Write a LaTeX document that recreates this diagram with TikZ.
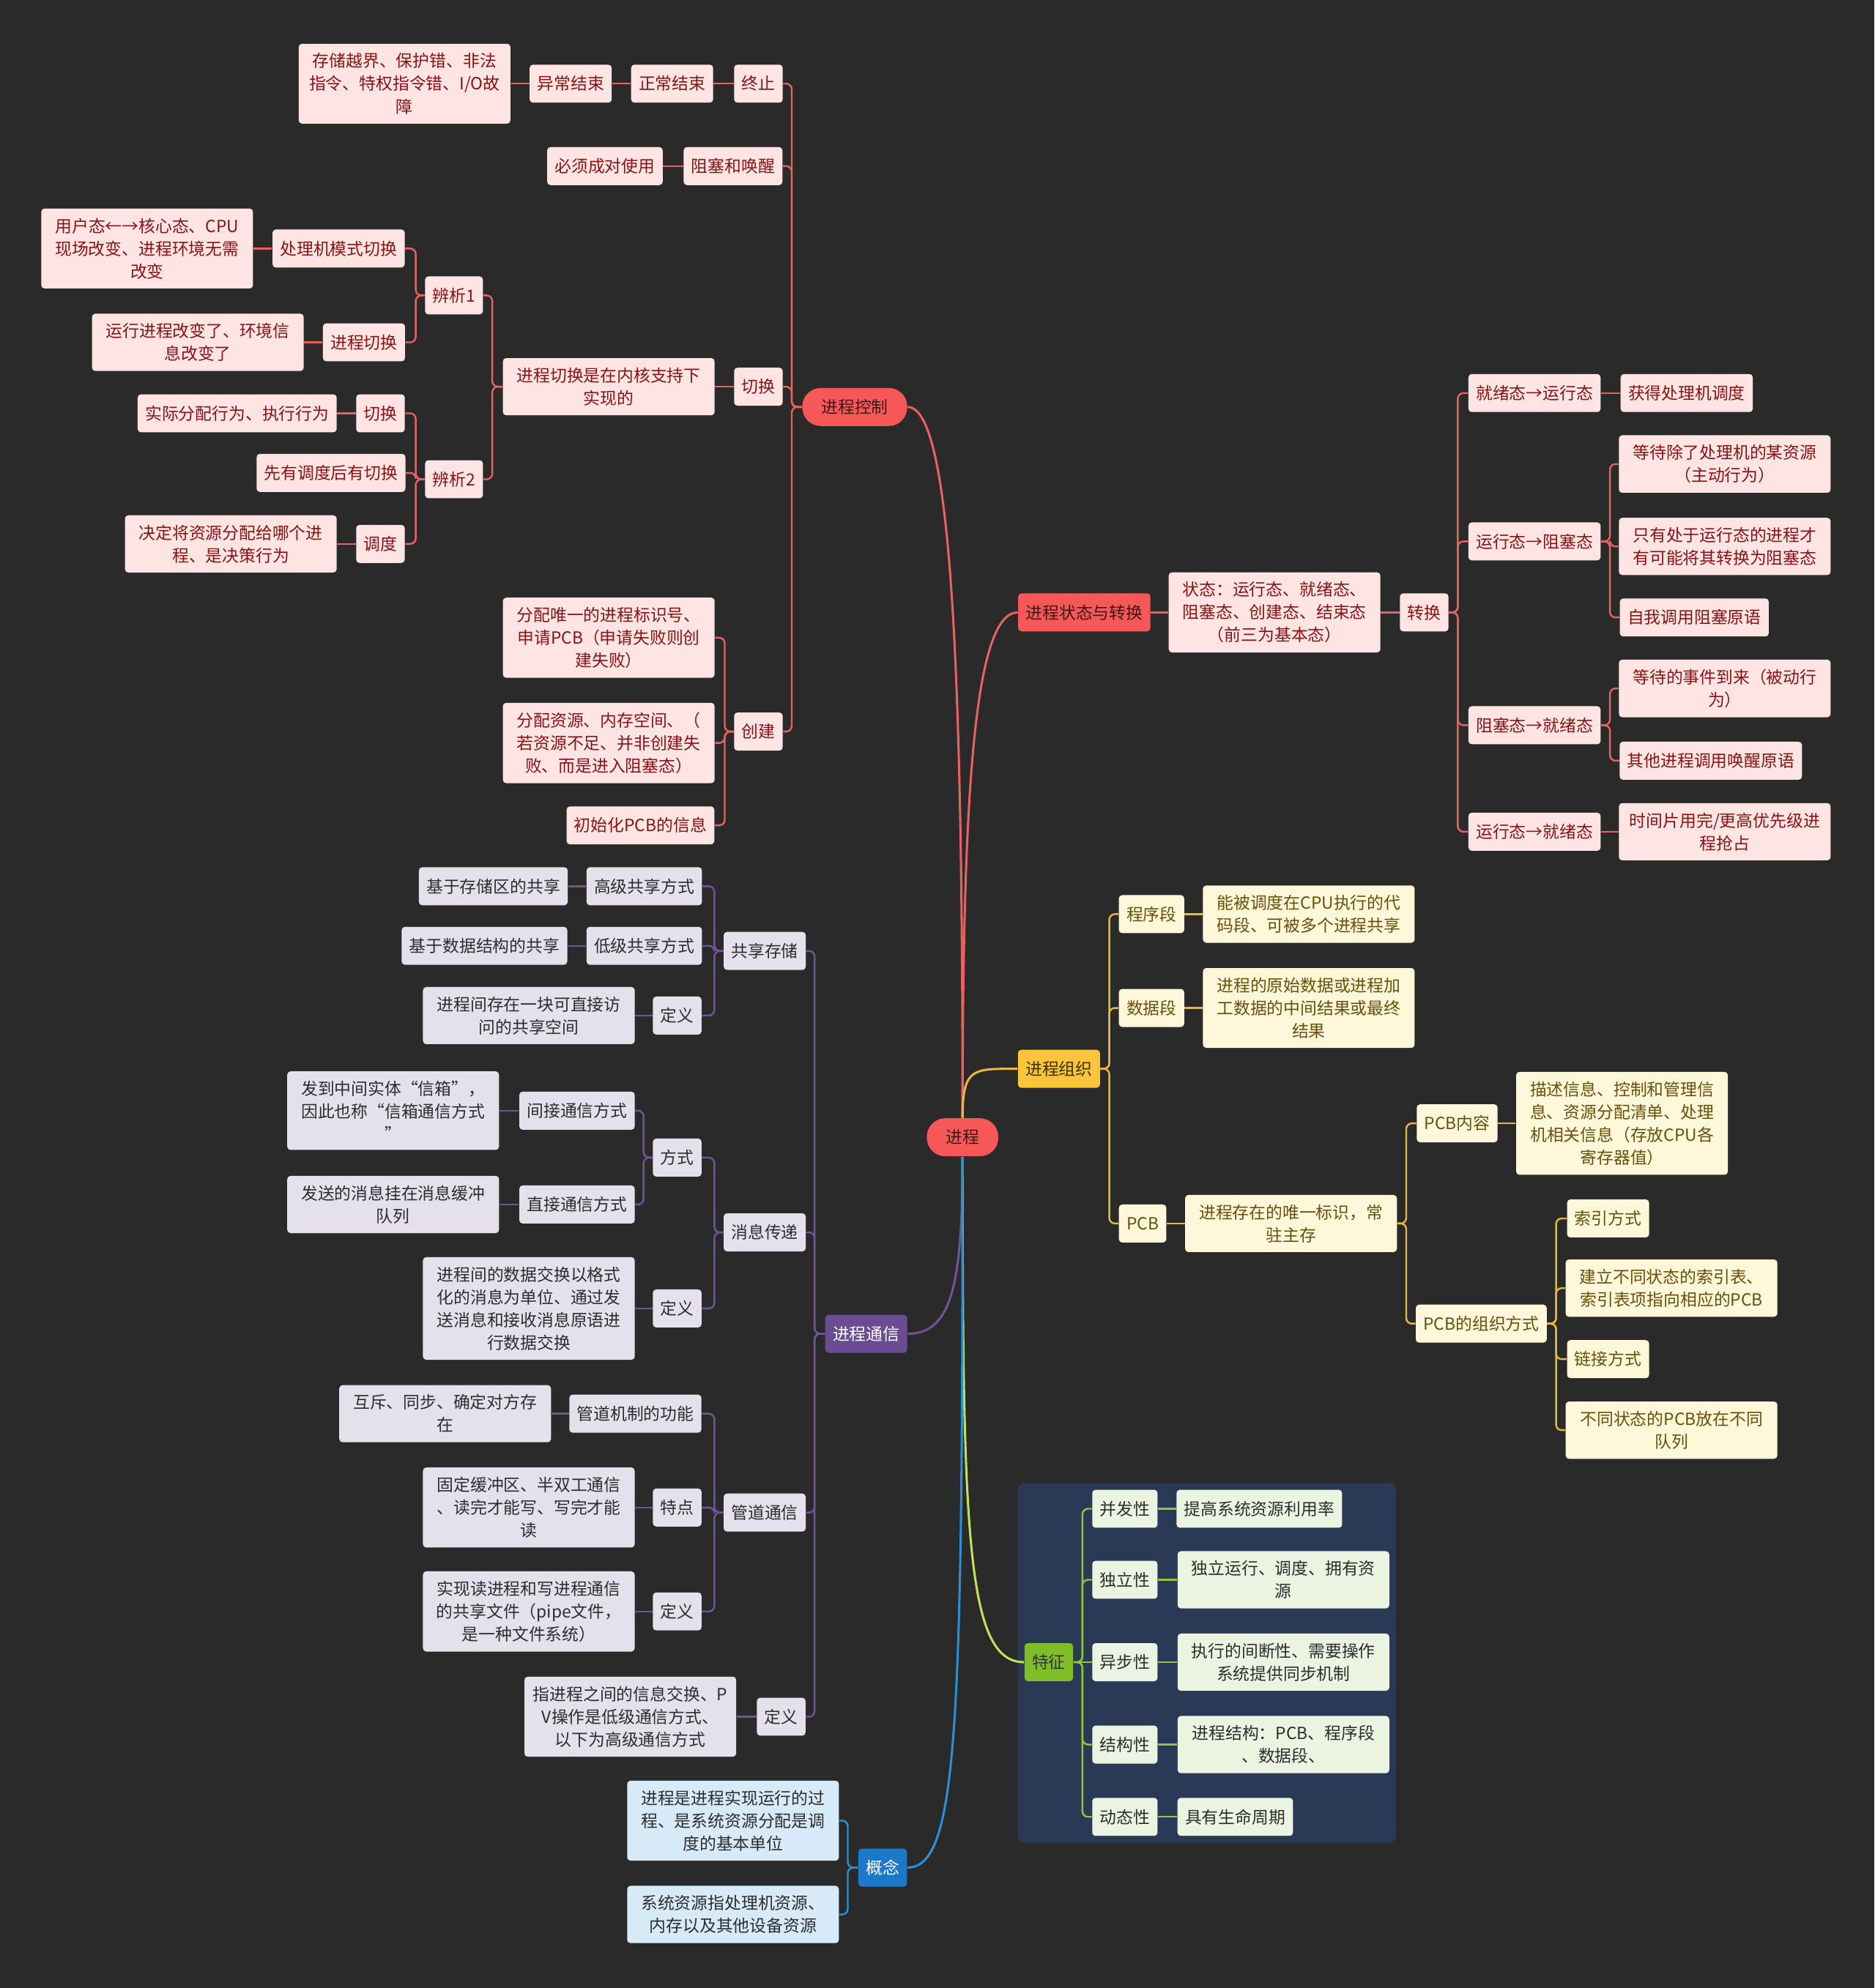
\documentclass[tikz,border=0pt]{standalone}
\usepackage{fontspec}
\setmainfont{Noto Sans CJK SC}
\usepackage{tikz}
\usetikzlibrary{positioning, fit, backgrounds}
\definecolor{bgDark}{RGB}{42,42,42}
\definecolor{redMain}{RGB}{246,88,88}
\definecolor{redLeaf}{RGB}{255,228,228}
\definecolor{redText}{RGB}{135,20,20}
\definecolor{redDark}{RGB}{62,24,24}
\definecolor{redLine}{RGB}{232,98,98}
\definecolor{yelMain}{RGB}{250,197,58}
\definecolor{yelLeaf}{RGB}{255,247,218}
\definecolor{yelText}{RGB}{105,80,10}
\definecolor{yelLine}{RGB}{230,185,60}
\definecolor{purMain}{RGB}{106,76,146}
\definecolor{purLeaf}{RGB}{228,224,236}
\definecolor{purLine}{RGB}{112,84,152}
\definecolor{bluMain}{RGB}{28,120,200}
\definecolor{bluLeaf}{RGB}{214,234,247}
\definecolor{bluLine}{RGB}{40,145,215}
\definecolor{grnMain}{RGB}{128,190,40}
\definecolor{grnLeaf}{RGB}{234,244,224}
\definecolor{grnLine}{RGB}{140,200,60}
\definecolor{grnCurve}{RGB}{190,226,90}
\definecolor{grnPanel}{RGB}{41,57,86}
\definecolor{darkText}{RGB}{45,45,45}
\newcommand{\mmfont}{\fontsize{7.5pt}{10.2pt}\selectfont}

\begin{document}
\begin{tikzpicture}[x=0.02cm, y=-0.02cm,
            base/.style={rounded corners=1.5pt, inner xsep=0.12cm, inner ysep=0.15cm,
                minimum height=0.6cm, font=\mmfont, align=center},
            wide/.style={minimum width=3.34cm},
            pill/.style={base, rounded corners=0.29cm, inner xsep=0.3cm,
                fill=redMain, text=redDark},
            rtop/.style={base, fill=redMain, text=redDark},
            ytop/.style={base, fill=yelMain, text=yelText!60!black},
            ptop/.style={base, fill=purMain, text=white},
            btop/.style={base, fill=bluMain, text=white},
            gtop/.style={base, fill=grnMain, text=black!80},
            rbox/.style={base, fill=redLeaf, text=redText},
            ybox/.style={base, fill=yelLeaf, text=yelText},
            pbox/.style={base, fill=purLeaf, text=darkText},
            bbox/.style={base, fill=bluLeaf, text=darkText},
            gbox/.style={base, fill=grnLeaf, text=darkText},
            panel/.style={fill=grnPanel, rounded corners=3pt, inner sep=0.1cm},
            rlink/.style={redLine, line width=0.8pt, rounded corners=2.5pt},
            ylink/.style={yelLine, line width=0.8pt, rounded corners=2.5pt},
            plink/.style={purLine, line width=0.8pt, rounded corners=2.5pt},
            blink/.style={bluLine, line width=0.8pt, rounded corners=2.5pt},
            glink/.style={grnLine, line width=0.8pt, rounded corners=2.5pt},
            curve/.style={line width=1pt}
          ]
          \useasboundingbox (0,0) rectangle (1478,1568);

          \node[pill] (root) at (759,897) {进程};

          \node[pill]  (ctrl)  at (674,321) {进程控制};
          \node[rbox]  (term)  at (598,66)  {终止};
          \node[rbox]  (norm)  at (530,66)  {正常结束};
          \node[rbox]  (abn)   at (450,66)  {异常结束};
          \node[rbox, wide] (abnd) at (319,66) {存储越界、保护错、非法\\指令、特权指令错、I/O故\\障};
          \node[rbox]  (blk)   at (578,131) {阻塞和唤醒};
          \node[rbox]  (pair)  at (477,131) {必须成对使用};
          \node[rbox]  (swi)   at (598,305) {切换};
          \node[rbox, wide] (swid) at (480,305) {进程切换是在内核支持下\\实现的};
          \node[rbox]  (an1)   at (358,233) {辨析1};
          \node[rbox]  (an2)   at (358,378) {辨析2};
          \node[rbox]  (mode)  at (267,196) {处理机模式切换};
          \node[rbox, wide] (moded) at (116,196) {用户态←→核心态、CPU\\现场改变、进程环境无需\\改变};
          \node[rbox]  (pswi)  at (287,270) {进程切换};
          \node[rbox, wide] (pswid) at (156,270) {运行进程改变了、环境信\\息改变了};
          \node[rbox]  (sw2)   at (300,326) {切换};
          \node[rbox]  (sw2d)  at (187,326) {实际分配行为、执行行为};
          \node[rbox]  (pre)   at (261,373) {先有调度后有切换};
          \node[rbox]  (sch)   at (300,429) {调度};
          \node[rbox, wide] (schd) at (182,429) {决定将资源分配给哪个进\\程、是决策行为};
          \node[rbox]  (crt)   at (598,577) {创建};
          \node[rbox, wide] (cr1) at (480,503) {分配唯一的进程标识号、\\申请PCB（申请失败则创\\建失败）};
          \node[rbox, wide] (cr2) at (480,586) {分配资源、内存空间、（\\若资源不足、并非创建失\\败、而是进入阻塞态）};
          \node[rbox]  (cr3)   at (505,651) {初始化PCB的信息};

          \node[rtop]  (stat)  at (855,483) {进程状态与转换};
          \node[rbox, wide] (statd) at (1005,483) {状态：运行态、就绪态、\\阻塞态、创建态、结束态\\（前三为基本态）};
          \node[rbox]  (conv)  at (1123,483) {转换};
          \node[rbox]  (t1)    at (1210,310) {就绪态→运行态};
          \node[rbox]  (t1d)   at (1330,310) {获得处理机调度};
          \node[rbox]  (t2)    at (1210,427) {运行态→阻塞态};
          \node[rbox, wide] (t2a) at (1360,366) {等待除了处理机的某资源\\（主动行为）};
          \node[rbox, wide] (t2b) at (1360,431) {只有处于运行态的进程才\\有可能将其转换为阻塞态};
          \node[rbox]  (t2c)   at (1336,487) {自我调用阻塞原语};
          \node[rbox]  (t3)    at (1210,572) {阻塞态→就绪态};
          \node[rbox, wide] (t3a) at (1360,543) {等待的事件到来（被动行\\为）};
          \node[rbox]  (t3b)   at (1349,600) {其他进程调用唤醒原语};
          \node[rbox]  (t4)    at (1210,656) {运行态→就绪态};
          \node[rbox, wide] (t4d) at (1360,656) {时间片用完/更高优先级进\\程抢占};

          \node[ytop]  (org)   at (835,843) {进程组织};
          \node[ybox]  (seg1)  at (908,721) {程序段};
          \node[ybox, wide] (seg1d) at (1032,721) {能被调度在CPU执行的代\\码段、可被多个进程共享};
          \node[ybox]  (seg2)  at (908,795) {数据段};
          \node[ybox, wide] (seg2d) at (1032,795) {进程的原始数据或进程加\\工数据的中间结果或最终\\结果};
          \node[ybox]  (pcb)   at (901,965) {PCB};
          \node[ybox, wide] (pcbd) at (1018,965) {进程存在的唯一标识，常\\驻主存};
          \node[ybox]  (pcbc)  at (1149,886) {PCB内容};
          \node[ybox, wide] (pcbcd) at (1279,886) {描述信息、控制和管理信\\息、资源分配清单、处理\\机相关信息（存放CPU各\\寄存器值）};
          \node[ybox]  (pcbo)  at (1168,1044) {PCB的组织方式};
          \node[ybox]  (o1)    at (1268,961) {索引方式};
          \node[ybox, wide] (o2) at (1318,1016) {建立不同状态的索引表、\\索引表项指向相应的PCB};
          \node[ybox]  (o3)    at (1268,1072) {链接方式};
          \node[ybox, wide] (o4) at (1318,1128) {不同状态的PCB放在不同\\队列};

          \node[ptop]  (comm)  at (683,1052) {进程通信};
          \node[pbox]  (shm)   at (603,750) {共享存储};
          \node[pbox]  (hi)    at (508,699) {高级共享方式};
          \node[pbox]  (hid)   at (389,699) {基于存储区的共享};
          \node[pbox]  (lo)    at (508,746) {低级共享方式};
          \node[pbox]  (lod)   at (382,746) {基于数据结构的共享};
          \node[pbox]  (shdef) at (534,801) {定义};
          \node[pbox, wide] (shdefd) at (417,801) {进程间存在一块可直接访\\问的共享空间};
          \node[pbox]  (msg)   at (603,972) {消息传递};
          \node[pbox]  (way)   at (534,913) {方式};
          \node[pbox]  (ind)   at (455,876) {间接通信方式};
          \node[pbox, wide] (indd) at (310,876) {发到中间实体“信箱”，\\因此也称“信箱通信方式\\”};
          \node[pbox]  (dir)   at (455,950) {直接通信方式};
          \node[pbox, wide] (dird) at (310,950) {发送的消息挂在消息缓冲\\队列};
          \node[pbox]  (mdef)  at (534,1032) {定义};
          \node[pbox, wide] (mdefd) at (417,1032) {进程间的数据交换以格式\\化的消息为单位、通过发\\送消息和接收消息原语进\\行数据交换};
          \node[pbox]  (pipe)  at (603,1193) {管道通信};
          \node[pbox]  (pfun)  at (501,1115) {管道机制的功能};
          \node[pbox, wide] (pfund) at (351,1115) {互斥、同步、确定对方存\\在};
          \node[pbox]  (pfea)  at (534,1189) {特点};
          \node[pbox, wide] (pfead) at (417,1189) {固定缓冲区、半双工通信\\、读完才能写、写完才能\\读};
          \node[pbox]  (pdef)  at (534,1271) {定义};
          \node[pbox, wide] (pdefd) at (417,1271) {实现读进程和写进程通信\\的共享文件（pipe文件，\\是一种文件系统）};
          \node[pbox]  (cdef)  at (616,1354) {定义};
          \node[pbox, wide] (cdefd) at (497,1354) {指进程之间的信息交换、P\\V操作是低级通信方式、\\以下为高级通信方式};

          \node[btop]  (conc)  at (696,1473) {概念};
          \node[bbox, wide] (cc1) at (578,1436) {进程是进程实现运行的过\\程、是系统资源分配是调\\度的基本单位};
          \node[bbox, wide] (cc2) at (578,1510) {系统资源指处理机资源、\\内存以及其他设备资源};

          \node[gtop]  (feat)  at (827,1311) {特征};
          \node[gbox]  (f1)    at (887,1190) {并发性};
          \node[gbox]  (f1d)   at (993,1190) {提高系统资源利用率};
          \node[gbox]  (f2)    at (887,1246) {独立性};
          \node[gbox, wide] (f2d) at (1012,1246) {独立运行、调度、拥有资\\源};
          \node[gbox]  (f3)    at (887,1311) {异步性};
          \node[gbox, wide] (f3d) at (1012,1311) {执行的间断性、需要操作\\系统提供同步机制};
          \node[gbox]  (f4)    at (887,1376) {结构性};
          \node[gbox, wide] (f4d) at (1012,1376) {进程结构：PCB、程序段\\、数据段、};
          \node[gbox]  (f5)    at (887,1433) {动态性};
          \node[gbox]  (f5d)   at (974,1433) {具有生命周期};

          \begin{scope}[on background layer]
            \fill[bgDark] (0,0) rectangle (1478,1568);
            \node[panel, fit=(feat)(f1)(f5)(f2d)] (fpanel) {};
          \end{scope}

          \draw[rlink, curve] (root.north) .. controls +(0,-350) and +(35,0) .. (ctrl.east);
          \draw[rlink, curve] (root.north) .. controls +(0,-250) and +(-35,0) .. (stat.west);
          \draw[ylink, curve] (root.north) .. controls +(0,-40) and +(-35,0) .. (org.west);
          \draw[plink, curve] (root.south) .. controls +(0,100) and +(35,0) .. (comm.east);
          \draw[glink, curve, grnCurve] (root.south) .. controls +(0,300) and +(-45,0) .. (feat.west);
          \draw[blink, curve] (root.south) .. controls +(0,450) and +(40,0) .. (conc.east);

          \draw[rlink] (ctrl.west) -- ++(-8,0) |- (term.east);
          \draw[rlink] (ctrl.west) -- ++(-8,0) |- (blk.east);
          \draw[rlink] (ctrl.west) -- ++(-8,0) |- (swi.east);
          \draw[rlink] (ctrl.west) -- ++(-8,0) |- (crt.east);
          \draw[rlink] (term) -- (norm);
          \draw[rlink] (norm) -- (abn);
          \draw[rlink] (abn)  -- (abnd);
          \draw[rlink] (blk)  -- (pair);
          \draw[rlink] (swi)  -- (swid);
          \draw[rlink] (swid.west) -- ++(-8,0) |- (an1.east);
          \draw[rlink] (swid.west) -- ++(-8,0) |- (an2.east);
          \draw[rlink] (an1.west) -- ++(-7,0) |- (mode.east);
          \draw[rlink] (an1.west) -- ++(-7,0) |- (pswi.east);
          \draw[rlink] (mode) -- (moded);
          \draw[rlink] (pswi) -- (pswid);
          \draw[rlink] (an2.west) -- ++(-7,0) |- (sw2.east);
          \draw[rlink] (an2.west) -- ++(-7,0) |- (pre.east);
          \draw[rlink] (an2.west) -- ++(-7,0) |- (sch.east);
          \draw[rlink] (sw2)  -- (sw2d);
          \draw[rlink] (sch)  -- (schd);
          \draw[rlink] (crt.west) -- ++(-7,0) |- (cr1.east);
          \draw[rlink] (crt.west) -- ++(-7,0) |- (cr2.east);
          \draw[rlink] (crt.west) -- ++(-7,0) |- (cr3.east);

          \draw[rlink] (stat)  -- (statd);
          \draw[rlink] (statd) -- (conv);
          \draw[rlink] (conv.east) -- ++(7,0) |- (t1.west);
          \draw[rlink] (conv.east) -- ++(7,0) |- (t2.west);
          \draw[rlink] (conv.east) -- ++(7,0) |- (t3.west);
          \draw[rlink] (conv.east) -- ++(7,0) |- (t4.west);
          \draw[rlink] (t1) -- (t1d);
          \draw[rlink] (t2.east) -- ++(7,0) |- (t2a.west);
          \draw[rlink] (t2.east) -- ++(7,0) |- (t2b.west);
          \draw[rlink] (t2.east) -- ++(7,0) |- (t2c.west);
          \draw[rlink] (t3.east) -- ++(7,0) |- (t3a.west);
          \draw[rlink] (t3.east) -- ++(7,0) |- (t3b.west);
          \draw[rlink] (t4) -- (t4d);

          \draw[ylink] (org.east) -- ++(7,0) |- (seg1.west);
          \draw[ylink] (org.east) -- ++(7,0) |- (seg2.west);
          \draw[ylink] (org.east) -- ++(7,0) |- (pcb.west);
          \draw[ylink] (seg1) -- (seg1d);
          \draw[ylink] (seg2) -- (seg2d);
          \draw[ylink] (pcb)  -- (pcbd);
          \draw[ylink] (pcbd.east) -- ++(7,0) |- (pcbc.west);
          \draw[ylink] (pcbd.east) -- ++(7,0) |- (pcbo.west);
          \draw[ylink] (pcbc) -- (pcbcd);
          \draw[ylink] (pcbo.east) -- ++(7,0) |- (o1.west);
          \draw[ylink] (pcbo.east) -- ++(7,0) |- (o2.west);
          \draw[ylink] (pcbo.east) -- ++(7,0) |- (o3.west);
          \draw[ylink] (pcbo.east) -- ++(7,0) |- (o4.west);

          \draw[plink] (comm.west) -- ++(-8,0) |- (shm.east);
          \draw[plink] (comm.west) -- ++(-8,0) |- (msg.east);
          \draw[plink] (comm.west) -- ++(-8,0) |- (pipe.east);
          \draw[plink] (comm.west) -- ++(-8,0) |- (cdef.east);
          \draw[plink] (shm.west) -- ++(-7,0) |- (hi.east);
          \draw[plink] (shm.west) -- ++(-7,0) |- (lo.east);
          \draw[plink] (shm.west) -- ++(-7,0) |- (shdef.east);
          \draw[plink] (hi)    -- (hid);
          \draw[plink] (lo)    -- (lod);
          \draw[plink] (shdef) -- (shdefd);
          \draw[plink] (msg.west) -- ++(-7,0) |- (way.east);
          \draw[plink] (msg.west) -- ++(-7,0) |- (mdef.east);
          \draw[plink] (way.west) -- ++(-7,0) |- (ind.east);
          \draw[plink] (way.west) -- ++(-7,0) |- (dir.east);
          \draw[plink] (ind)  -- (indd);
          \draw[plink] (dir)  -- (dird);
          \draw[plink] (mdef) -- (mdefd);
          \draw[plink] (pipe.west) -- ++(-7,0) |- (pfun.east);
          \draw[plink] (pipe.west) -- ++(-7,0) |- (pfea.east);
          \draw[plink] (pipe.west) -- ++(-7,0) |- (pdef.east);
          \draw[plink] (pfun) -- (pfund);
          \draw[plink] (pfea) -- (pfead);
          \draw[plink] (pdef) -- (pdefd);
          \draw[plink] (cdef) -- (cdefd);

          \draw[blink] (conc.west) -- ++(-8,0) |- (cc1.east);
          \draw[blink] (conc.west) -- ++(-8,0) |- (cc2.east);

          \draw[glink] (feat.east) -- ++(7,0) |- (f1.west);
          \draw[glink] (feat.east) -- ++(7,0) |- (f2.west);
          \draw[glink] (feat) -- (f3);
          \draw[glink] (feat.east) -- ++(7,0) |- (f4.west);
          \draw[glink] (feat.east) -- ++(7,0) |- (f5.west);
          \draw[glink] (f1) -- (f1d);
          \draw[glink] (f2) -- (f2d);
          \draw[glink] (f3) -- (f3d);
          \draw[glink] (f4) -- (f4d);
          \draw[glink] (f5) -- (f5d);
        \end{tikzpicture}
\end{document}
